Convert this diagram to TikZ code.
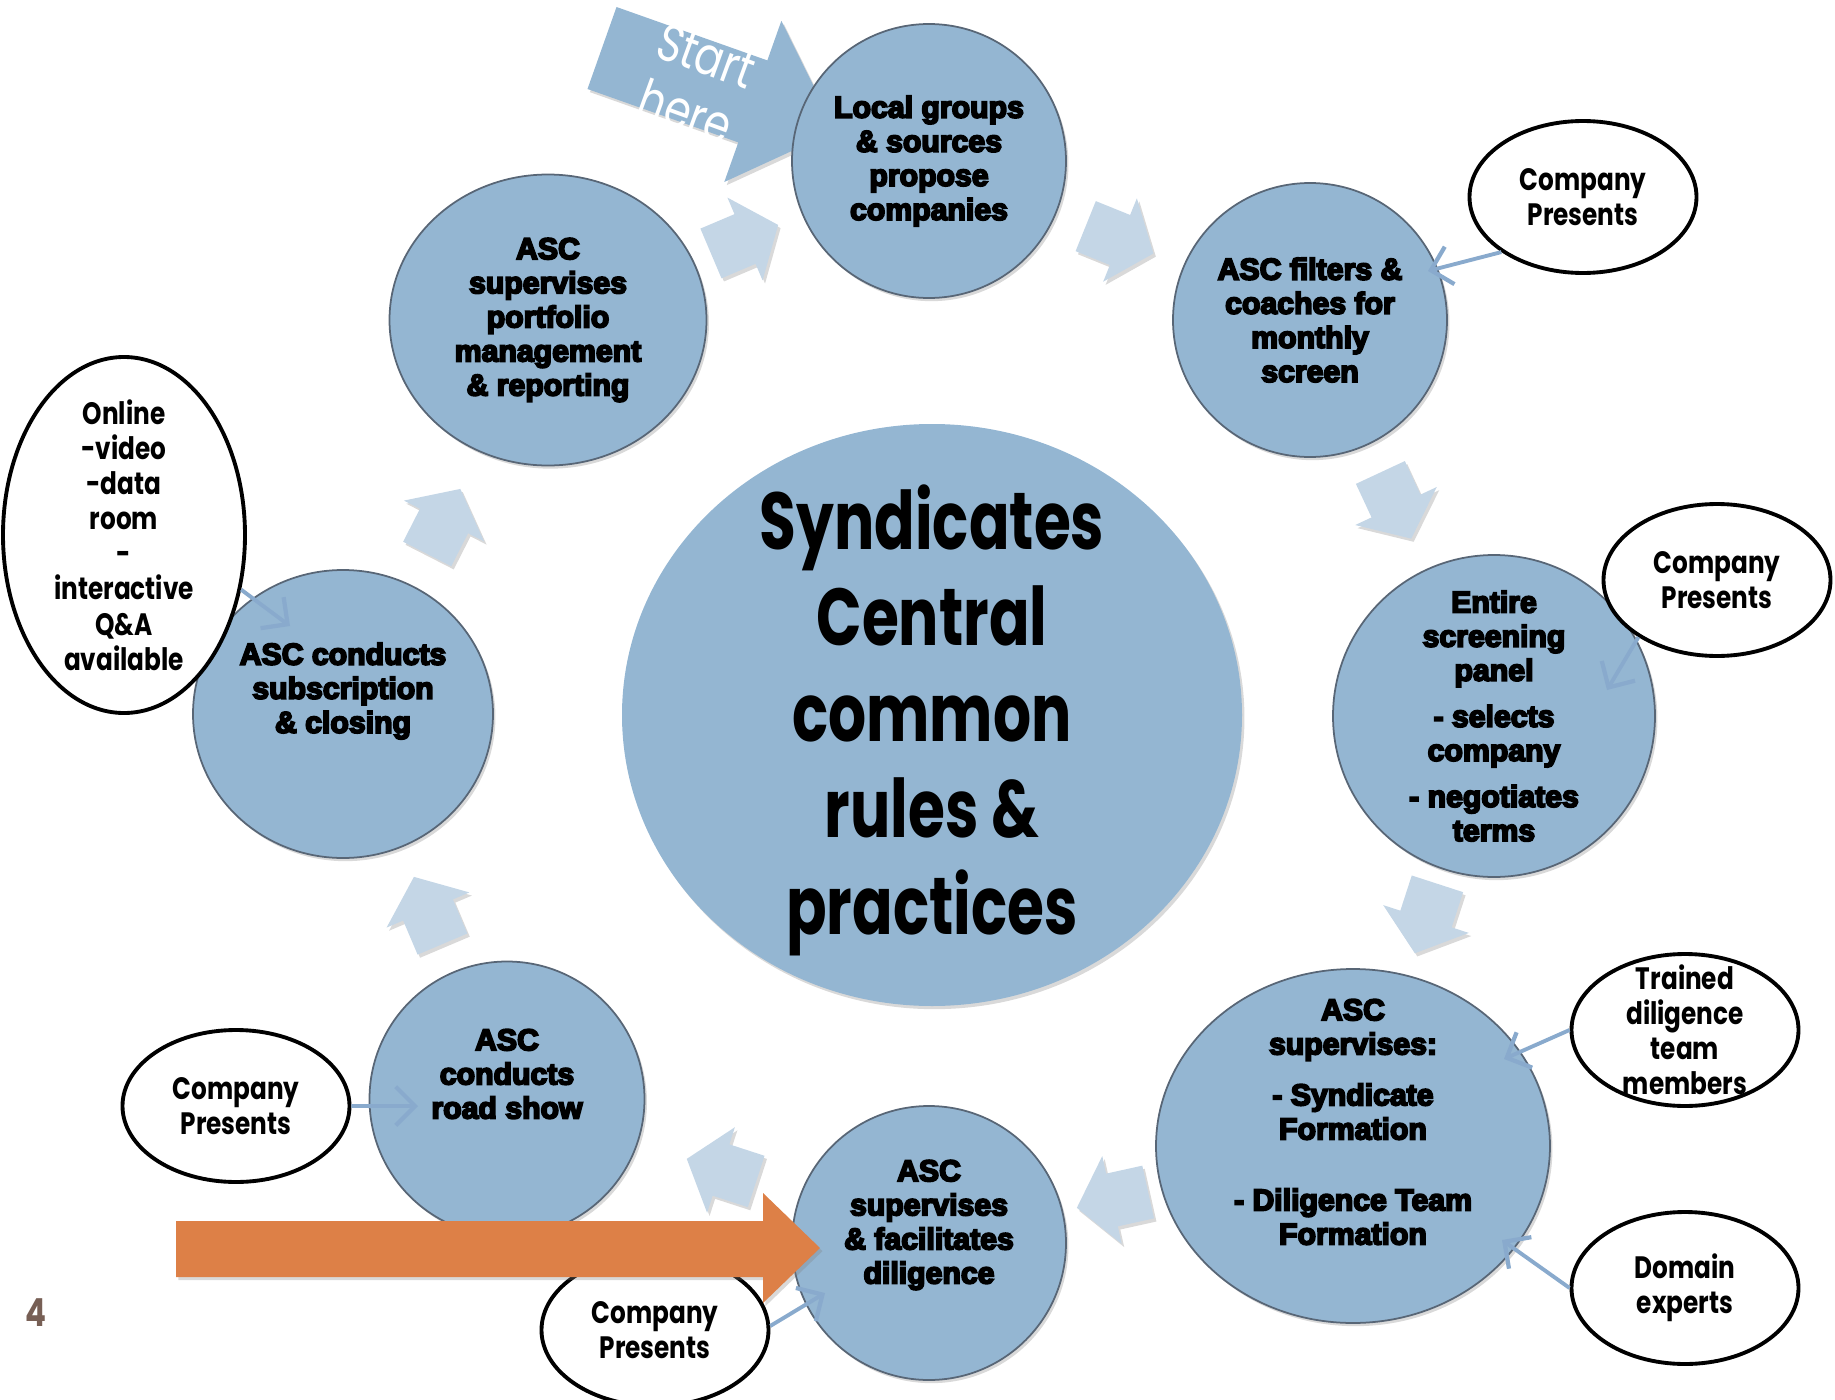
\documentclass[tikz,border=0pt]{standalone}
\usepackage{fontspec}
\usepackage{tikz}
\usetikzlibrary{arrows.meta,shapes.geometric,shadows}
\newfontfamily\heavyfont{Liberation Sans Bold}[FakeBold=6]
\newfontfamily\twfont{Poppins}[FakeStretch=0.8]
\newfontfamily\hubfont{Poppins}[FakeStretch=0.74]
\definecolor{medianblue}{HTML}{94B6D2}
\definecolor{chevblue}{RGB}{196,214,230}
\definecolor{linkblue}{RGB}{137,170,205}
\definecolor{medianorange}{HTML}{DD8047}
\definecolor{mediantext}{HTML}{775F55}
\definecolor{rimgray}{RGB}{88,102,118}
\tikzset{SoftShadow/.style={drop shadow={shadow xshift=.7pt,shadow yshift=-.9pt,opacity=.3}}}
\tikzset{StepDisk/.style={circle,fill=medianblue,draw=rimgray,line width=.5pt,
    inner sep=0pt,SoftShadow}}
\tikzset{StepText/.style={align=center,inner sep=0pt,
    font=\heavyfont\fontsize{8.6}{9.7}\selectfont}}
\tikzset{Bubble/.style={ellipse,fill=white,draw=black,line width=1.1pt,inner sep=0pt,
    minimum width=2.27cm,minimum height=1.52cm}}
\tikzset{BubbleText/.style={align=center,inner sep=0pt,
    font=\twfont\bfseries\fontsize{8.8}{10}\selectfont}}
\tikzset{Link/.style={draw=linkblue,line width=1.1pt,
    -{Straight Barb[length=5.5pt,width=11pt,line width=1.2pt]}}}
\tikzset{Chevron/.pic={
    \fill[chevblue,SoftShadow] (-.37,-.27) -- (0,-.27) -- (0,-.45) -- (.36,0)
      -- (0,.45) -- (0,.27) -- (-.37,.27) -- cycle;}}

\begin{document}
\begin{tikzpicture}
  \useasboundingbox (0,0) rectangle (18.35,-14);
  % start arrow, its tip goes under the first step
  \begin{scope}[shift={(6.02,-.48)},rotate=-19.5]
    \fill[medianblue,SoftShadow] (0,-.435) -- (1.6,-.435) -- (1.6,-.855) -- (2.48,0)
      -- (1.6,.855) -- (1.6,.435) -- (0,.435) -- cycle;
  \end{scope}
  \node[rotate=-20,align=center,inner sep=0pt,text=white,
    font=\twfont\fontsize{15}{17}\selectfont] (start) at (6.96,-.84) {Start\\here};

  % chevrons between the steps
  \pic[rotate=23] at (7.45,-2.39) {Chevron};
  \pic[rotate=-22] at (11.20,-2.40) {Chevron};
  \pic[rotate=-65] at (13.96,-5.06) {Chevron};
  \pic[rotate=-108] at (14.26,-9.19) {Chevron};
  \pic[rotate=-167.5] at (11.12,-12.00) {Chevron};
  \pic[rotate=162] at (7.21,-11.70) {Chevron};
  \pic[rotate=113] at (4.28,-9.10) {Chevron};
  \pic[rotate=63] at (4.44,-5.21) {Chevron};

  % hub
  \node[ellipse,fill=medianblue,inner sep=0pt,minimum width=6.2cm,
    minimum height=5.82cm,SoftShadow] (hub) at (9.32,-7.15) {};
  \node[align=center,inner sep=0pt,font=\hubfont\bfseries\fontsize{23}{27.4}\selectfont]
    (hubtxt) at ([yshift=-.05cm]hub.center) {Syndicates\\Central\\common\\rules \&\\practices};

  % steps
  \node[StepDisk,minimum size=2.74cm] (local) at (9.29,-1.61) {};
  \node[StepDisk,minimum size=2.74cm] (filters) at (13.10,-3.20) {};
  \node[StepDisk,minimum size=3.22cm] (screen) at (14.94,-7.16) {};
  \node[StepDisk,ellipse,minimum width=3.94cm,minimum height=3.54cm] (teams) at (13.53,-11.46) {};
  \node[StepDisk,minimum size=2.74cm] (diligence) at (9.29,-12.43) {};
  \node[StepDisk,minimum size=2.75cm] (roadshow) at (5.07,-10.99) {};
  \node[StepDisk,ellipse,minimum width=3cm,minimum height=2.88cm] (closing) at (3.43,-7.14) {};
  \node[StepDisk,ellipse,minimum width=3.17cm,minimum height=2.91cm] (portfolio) at (5.48,-3.20) {};

  \node[StepText] (localtxt) at (local) {Local groups\\\& sources\\propose\\companies};
  \node[StepText] (filterstxt) at (filters) {ASC filters \&\\coaches for\\monthly\\screen};
  \node[StepText] (screentxt) at (screen)
    {Entire\\screening\\panel\\[3.4pt]- selects\\company\\[3.4pt]- negotiates\\terms};
  \node[StepText] (teamstxt) at ([yshift=.24cm]teams.center)
    {ASC\\supervises:\\[4.8pt]- Syndicate\\Formation\\[10.5pt]- Diligence Team\\Formation};
  \node[StepText] (diligencetxt) at ([yshift=.18cm]diligence.center)
    {ASC\\supervises\\\& facilitates\\diligence};
  \node[StepText] (roadshowtxt) at ([yshift=.25cm]roadshow.center) {ASC\\conducts\\road show};
  \node[StepText] (closingtxt) at ([yshift=.23cm]closing.center)
    {ASC conducts\\subscription\\\& closing};
  \node[StepText] (portfoliotxt) at (portfolio)
    {ASC\\supervises\\portfolio\\management\\\& reporting};

  % side inputs
  \node[Bubble] (presA) at (15.83,-1.97) {};
  \node[Bubble] (presB) at (17.17,-5.80) {};
  \node[Bubble] (trained) at (16.85,-10.30) {};
  \node[Bubble] (domain) at (16.85,-12.88) {};
  \node[Bubble] (presE) at (6.55,-13.30) {};
  \node[Bubble] (presF) at (2.36,-11.06) {};
  \node[Bubble,minimum width=2.42cm,minimum height=3.56cm] (online) at (1.24,-5.35) {};

  \node[BubbleText] (presAtxt) at (presA) {Company\\Presents};
  \node[BubbleText] (presBtxt) at (presB) {Company\\Presents};
  \node[BubbleText] (trainedtxt) at (trained) {Trained\\diligence\\team\\members};
  \node[BubbleText] (domaintxt) at (domain) {Domain\\experts};
  \node[BubbleText] (presEtxt) at (presE) {Company\\Presents};
  \node[BubbleText] (presFtxt) at (presF) {Company\\Presents};
  \node[BubbleText] (onlinetxt) at (online)
    {Online\\-video\\-data\\room\\-\\interactive\\Q\&A\\available};

  \draw[Link] (presA.214) -- ([shift={(1.18,.49)}]filters.center);
  \draw[Link] (presB.216) -- ([shift={(1.13,.26)}]screen.center);
  \draw[Link] (trained.180) -- ([shift={(1.51,.87)}]teams.center);
  \draw[Link] (domain.180) -- ([shift={(1.49,-.94)}]teams.center);
  \draw[Link] (presE.2) -- ([shift={(-1.04,-.50)}]diligence.center);
  \draw[Link] (presF.0) -- ([shift={(-.89,-.07)}]roadshow.center);
  \draw[Link] (online.335) -- ([shift={(-.53,.88)}]closing.center);

  % orange arrow into the diligence step
  \fill[medianorange,SoftShadow] (1.76,-12.21) -- (7.63,-12.21) -- (7.63,-11.93)
    -- (8.20,-12.48) -- (7.63,-13.03) -- (7.63,-12.77) -- (1.76,-12.77) -- cycle;

  \node[inner sep=0pt,text=mediantext,font=\twfont\bfseries\fontsize{11}{13}\selectfont]
    (pageno) at (.36,-13.13) {4};
\end{tikzpicture}
\end{document}
